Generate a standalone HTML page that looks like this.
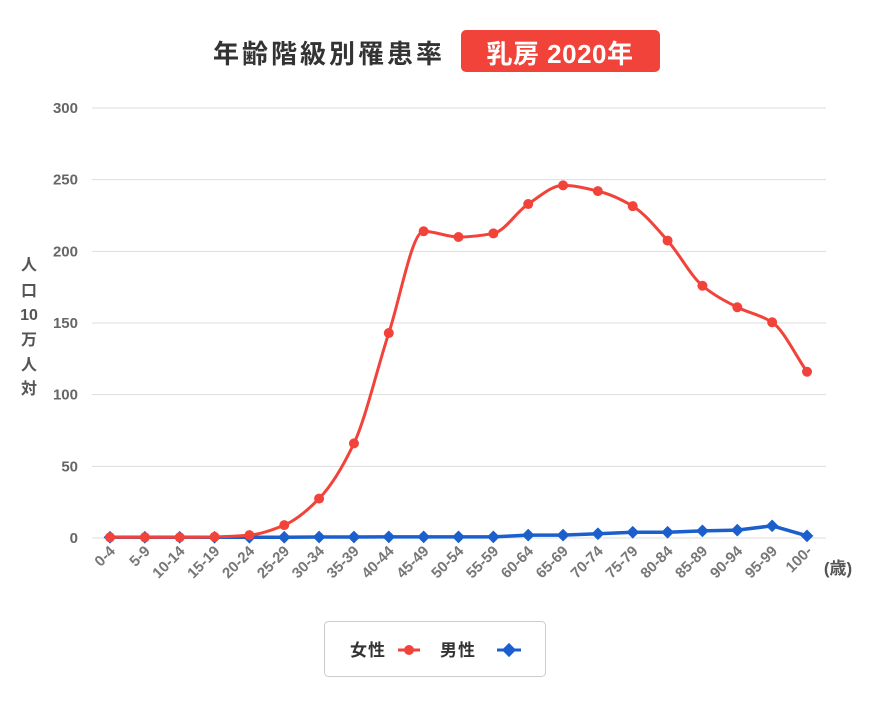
<!DOCTYPE html>
<html><head><meta charset="utf-8">
<style>
body{margin:0;background:#fff;width:870px;height:709px;overflow:hidden;font-family:"Liberation Sans","Noto Sans CJK JP",sans-serif;}
</style></head><body>
<svg id="s" width="870" height="709" xmlns="http://www.w3.org/2000/svg" style="position:absolute;left:0;top:0">
<text x="213" y="63" font-size="26" font-weight="bold" fill="#333" letter-spacing="3" font-family="'Liberation Sans','Noto Sans CJK JP',sans-serif">年齢階級別罹患率</text>
<rect x="461" y="30" width="199" height="42" rx="5" fill="#f2433a"/>
<text x="560" y="63" font-size="26" font-weight="bold" fill="#fff" text-anchor="middle" letter-spacing="0.5" font-family="'Liberation Sans','Noto Sans CJK JP',sans-serif">乳房 2020年</text>
<g font-size="16" font-weight="bold" fill="#555" text-anchor="middle" font-family="'Liberation Sans','Noto Sans CJK JP',sans-serif">
<text x="29" y="270">人</text><text x="29" y="296">口</text><text x="29" y="320">10</text><text x="29" y="345">万</text><text x="29" y="370">人</text><text x="29" y="394">対</text>
</g>
<text x="838" y="574" font-size="17" font-weight="bold" fill="#555" text-anchor="middle" font-family="'Liberation Sans','Noto Sans CJK JP',sans-serif">(歳)</text>
<rect x="324.5" y="621.5" width="221" height="55" rx="4" fill="#fff" stroke="#ccc"/>
<text x="350" y="656" font-size="17" font-weight="bold" fill="#333" letter-spacing="1" font-family="'Liberation Sans','Noto Sans CJK JP',sans-serif">女性</text>
<line x1="398" y1="650" x2="420" y2="650" stroke="#f2433a" stroke-width="3"/><circle cx="409" cy="650" r="5" fill="#f2433a"/>
<text x="440" y="656" font-size="17" font-weight="bold" fill="#333" letter-spacing="1" font-family="'Liberation Sans','Noto Sans CJK JP',sans-serif">男性</text>
<line x1="497" y1="650" x2="521" y2="650" stroke="#1a5fcc" stroke-width="3"/><rect x="504" y="645" width="10" height="10" fill="#1a5fcc" transform="rotate(45 509 650)"/>
<g id="g"></g>
</svg>
<script>
var g=document.getElementById('g'),h='';
function Y(v){return 538-v*430/300;}
function X(i){return 110+i*34.85;}
for(var v=0;v<=300;v+=50){var y=Y(v);h+='<line x1="92" x2="826" y1="'+y+'" y2="'+y+'" stroke="#ddd" stroke-width="1"/>';h+='<text x="78" y="'+(y+5)+'" font-size="15" font-weight="bold" fill="#666" text-anchor="end">'+v+'</text>';}
var labs=['0-4','5-9','10-14','15-19','20-24','25-29','30-34','35-39','40-44','45-49','50-54','55-59','60-64','65-69','70-74','75-79','80-84','85-89','90-94','95-99','100-'];
labs.forEach(function(l,i){var x=X(i)+6,y=552;h+='<text x="'+x+'" y="'+y+'" font-size="15" font-weight="bold" fill="#777" text-anchor="end" transform="rotate(-45 '+x+' '+y+')">'+l+'</text>';});
var f=[0.5,0.5,0.5,0.8,2,9,27.5,66,143,214,210,212.5,233,246,242,231.5,207.5,176,161,150.5,116];
var m=[0.5,0.5,0.5,0.5,0.5,0.5,0.7,0.7,0.8,0.8,0.8,0.8,2,2,3,4,4,5,5.5,8.5,1.5];
function path(a,smooth){var p=a.map(function(v,i){return [X(i),Y(v)];});var d='M'+p[0][0]+','+p[0][1];
var n=p.length,s=[],t=[];
for(var i=0;i<n-1;i++)s[i]=(p[i+1][1]-p[i][1])/(p[i+1][0]-p[i][0]);
for(var i=0;i<n;i++){if(i==0)t[i]=s[0];else if(i==n-1)t[i]=s[n-2];else if(s[i-1]*s[i]<=0)t[i]=0;else t[i]=2/(1/s[i-1]+1/s[i]);}
for(var i=0;i<n-1;i++){if(!smooth){d+=' L'+p[i+1][0]+','+p[i+1][1];continue;}
var dx=(p[i+1][0]-p[i][0])/3;
d+=' C'+(p[i][0]+dx)+','+(p[i][1]+t[i]*dx)+' '+(p[i+1][0]-dx)+','+(p[i+1][1]-t[i+1]*dx)+' '+p[i+1][0]+','+p[i+1][1];}
return d;}
h+='<path d="'+path(m,false)+'" fill="none" stroke="#1a5fcc" stroke-width="3.5"/>';
m.forEach(function(v,i){h+='<rect x="'+(X(i)-4.5)+'" y="'+(Y(v)-4.5)+'" width="9" height="9" fill="#1a5fcc" transform="rotate(45 '+X(i)+' '+Y(v)+')"/>';});
h+='<path d="'+path(f,true)+'" fill="none" stroke="#f2433a" stroke-width="3"/>';
f.forEach(function(v,i){h+='<circle cx="'+X(i)+'" cy="'+Y(v)+'" r="5" fill="#f2433a"/>';});
g.innerHTML=h;g.setAttribute('font-family',"'Liberation Sans','Noto Sans CJK JP',sans-serif");
</script>
</body></html>
